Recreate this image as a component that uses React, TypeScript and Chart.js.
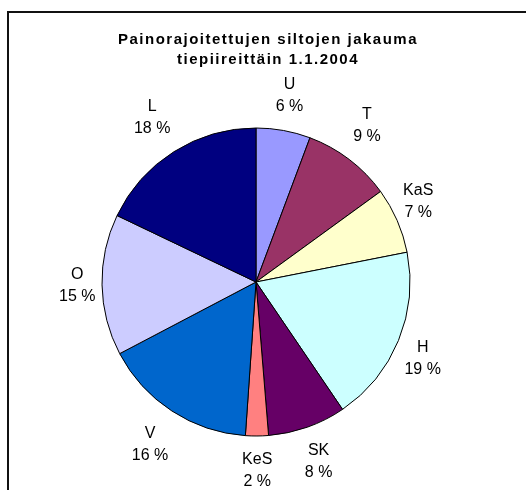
import React, { useEffect, useRef } from "react";
import { Chart, registerables } from "chart.js";

Chart.register(...registerables);

const titleLines = ["Painorajoitettujen siltojen jakauma", "tiepiireittäin 1.1.2004"];
const categories = ["U", "T", "KaS", "H", "SK", "KeS", "V", "O", "L"];
const shares = [5.7, 9.3, 6.9, 18.6, 8.2, 2.4, 16.2, 14.8, 17.9];
const sliceColors = [
  "#9999FF",
  "#993366",
  "#FFFFCC",
  "#CCFFFF",
  "#660066",
  "#FF8080",
  "#0066CC",
  "#CCCCFF",
  "#000080",
];

const FONT = "'Liberation Sans', Arial, sans-serif";

const titlePlugin = {
  id: "excelTitle",
  afterDraw(chart: any) {
    const ctx = chart.ctx as CanvasRenderingContext2D;
    ctx.save();
    ctx.fillStyle = "#000";
    ctx.font = `bold 15px ${FONT}`;
    (ctx as any).letterSpacing = "1.5px";
    ctx.textAlign = "center";
    ctx.textBaseline = "middle";
    const cx = chart.width / 2 + 5;
    titleLines.forEach((line, i) => {
      ctx.fillText(line, cx, 40 + i * 20);
    });
    ctx.restore();
  },
};

const clamp = (v: number) => Math.max(-1, Math.min(1, v));

const labelPlugin = {
  id: "outsideLabels",
  afterDatasetsDraw(chart: any) {
    const ctx = chart.ctx as CanvasRenderingContext2D;
    const meta = chart.getDatasetMeta(0);
    const data = chart.data.datasets[0].data as number[];
    const total = data.reduce((a, b) => a + b, 0);
    ctx.save();
    ctx.fillStyle = "#000";
    ctx.font = `16px ${FONT}`;
    ctx.textAlign = "center";
    ctx.textBaseline = "middle";
    const gap = 6.5;
    const boxH = 57;
    meta.data.forEach((arc: any, i: number) => {
      const { x, y, startAngle, endAngle, outerRadius } = arc.getProps(
        ["x", "y", "startAngle", "endAngle", "outerRadius"],
        true
      );
      const mid = (startAngle + endAngle) / 2;
      const dx = Math.cos(mid);
      const dy = Math.sin(mid);
      const name = chart.data.labels[i] as string;
      const pct = `${Math.round((data[i] / total) * 100)} %`;
      const w = Math.max(ctx.measureText(name).width, ctx.measureText(pct).width);
      const cx = x + (outerRadius + gap) * dx + (w / 2) * clamp(2 * dx);
      const cy = y + (outerRadius + gap) * dy + (boxH / 2) * clamp(1.4 * dy);
      ctx.fillText(name, cx, cy - 11);
      ctx.fillText(pct, cx, cy + 11);
    });
    ctx.restore();
  },
};

export default function App() {
  const ref = useRef<HTMLCanvasElement>(null);

  useEffect(() => {
    if (!ref.current) return;
    const chart = new Chart(ref.current, {
      type: "pie",
      data: {
        labels: categories,
        datasets: [
          {
            data: shares,
            backgroundColor: sliceColors,
            borderColor: "#000",
            borderWidth: 1,
          },
        ],
      },
      options: {
        responsive: false,
        animation: false,
        radius: 154,
        layout: { padding: { left: 102, top: 128, right: 116, bottom: 54 } },
        plugins: {
          legend: { display: false },
          title: { display: false },
          tooltip: { enabled: false },
        },
      },
      plugins: [titlePlugin, labelPlugin],
    });
    return () => chart.destroy();
  }, []);

  return (
    <div
      style={{
        position: "fixed",
        left: 0,
        top: 0,
        width: 526,
        height: 490,
        overflow: "hidden",
        background: "#fff",
      }}
    >
      <canvas
        ref={ref}
        width={526}
        height={490}
        style={{ position: "absolute", left: 0, top: 0, width: 526, height: 490 }}
      />
      <div
        style={{
          position: "absolute",
          left: 7,
          top: 11,
          width: 700,
          height: 700,
          borderLeft: "2px solid #111",
          borderTop: "2px solid #111",
          pointerEvents: "none",
        }}
      />
    </div>
  );
}
